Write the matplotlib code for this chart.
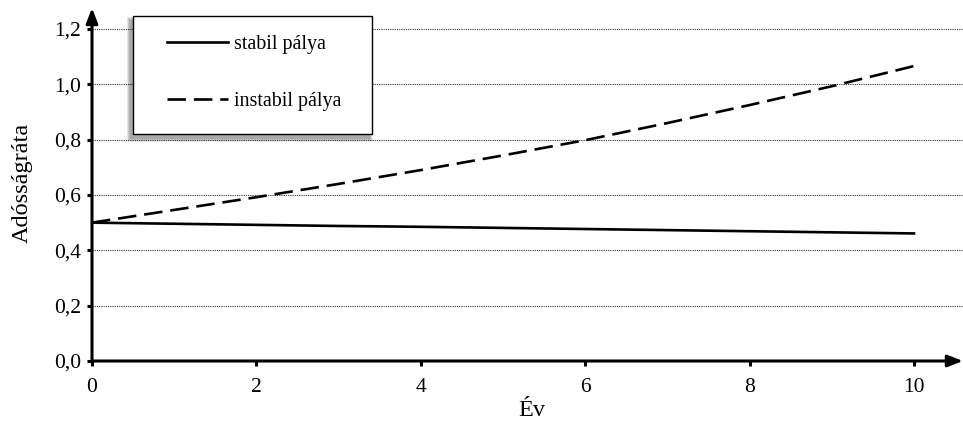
import matplotlib
matplotlib.use("Agg")
import matplotlib.pyplot as plt
from matplotlib.patches import Rectangle

plt.rcParams['font.family'] = ['Liberation Serif', 'DejaVu Serif']

# debt ratio paths over ten years
years = [0, 1, 2, 3, 4, 5, 6, 7, 8, 9, 10]
stabil = [0.500, 0.496, 0.492, 0.488, 0.485, 0.481, 0.477, 0.473, 0.469, 0.465, 0.461]
instabil = [0.500, 0.546, 0.592, 0.640, 0.690, 0.743, 0.798, 0.860, 0.925, 0.993, 1.066]
xticks = [0, 2, 4, 6, 8, 10]
yticks = [0.0, 0.2, 0.4, 0.6, 0.8, 1.0, 1.2]
ytick_labels = ['0,0', '0,2', '0,4', '0,6', '0,8', '1,0', '1,2']

W, H = 963, 430
fig = plt.figure(figsize=(W / 100, H / 100), dpi=100)
ax = fig.add_axes([92 / W, (H - 361) / H, (W - 92) / W, (361 - 8) / H])

ax.plot(years, stabil, color='black', lw=1.9, label='stabil pálya', zorder=3)
ax.plot(years, instabil, color='black', lw=1.9, dashes=(7, 3), label='instabil pálya', zorder=3)

ax.set_xlim(0, 871 / 82.2)
ax.set_ylim(0, 353 / 276.7)
ax.set_xticks(xticks)
ax.set_xticklabels([str(t) for t in xticks])
ax.set_yticks(yticks)
ax.set_yticklabels(ytick_labels)
ax.tick_params(direction='out', length=3.6, width=2.2, labelsize=15.5)
ax.tick_params(axis='x', pad=9)
ax.tick_params(axis='y', pad=4.5)

for y in yticks[1:]:
    ax.axhline(y, color='#333333', lw=0.8, ls=(0, (1, 1)), zorder=1)

for s in ['top', 'right', 'left', 'bottom']:
    ax.spines[s].set_visible(False)
# axes with arrow heads
for tip in [(1.0, 0), (0, 1.0)]:
    ax.annotate('', xy=tip, xytext=(0, 0), xycoords='axes fraction',
                arrowprops=dict(arrowstyle='-|>,head_length=0.9,head_width=0.35',
                                lw=2.2, color='black', shrinkA=0, shrinkB=0), zorder=4)

ax.set_xlabel('Év', fontsize=17.5)
ax.set_ylabel('Adósságráta', fontsize=17.5)
ax.xaxis.set_label_coords(0.505, -0.11)
ax.yaxis.set_label_coords(-0.068, 0.504)

# legend box with a soft shadow
bx0, by0, bx1, by1 = 133, 16, 372, 134
for i in range(7, 0, -1):
    fig.patches.append(Rectangle(((bx0 - 3 - i * 0.5) / W, (H - by1 - 4 - i * 0.5) / H),
                                 (bx1 - bx0 + i) / W, (by1 - by0 + i) / H,
                                 transform=fig.transFigure, facecolor='black',
                                 edgecolor='none', alpha=0.055, zorder=5))
fig.patches.append(Rectangle((bx0 / W, (H - by1) / H), (bx1 - bx0) / W, (by1 - by0) / H,
                             transform=fig.transFigure, facecolor='white',
                             edgecolor='black', lw=1.0, zorder=6))

leg = fig.legend(*ax.get_legend_handles_labels(), loc='upper left',
                 bbox_to_anchor=(167 / W, 1 - 35 / H), frameon=False,
                 fontsize=14.4, labelspacing=1.9, handlelength=3.05,
                 handletextpad=0.3, borderpad=0, borderaxespad=0)
leg.set_zorder(7)

fig.savefig('out.png', dpi=100)
